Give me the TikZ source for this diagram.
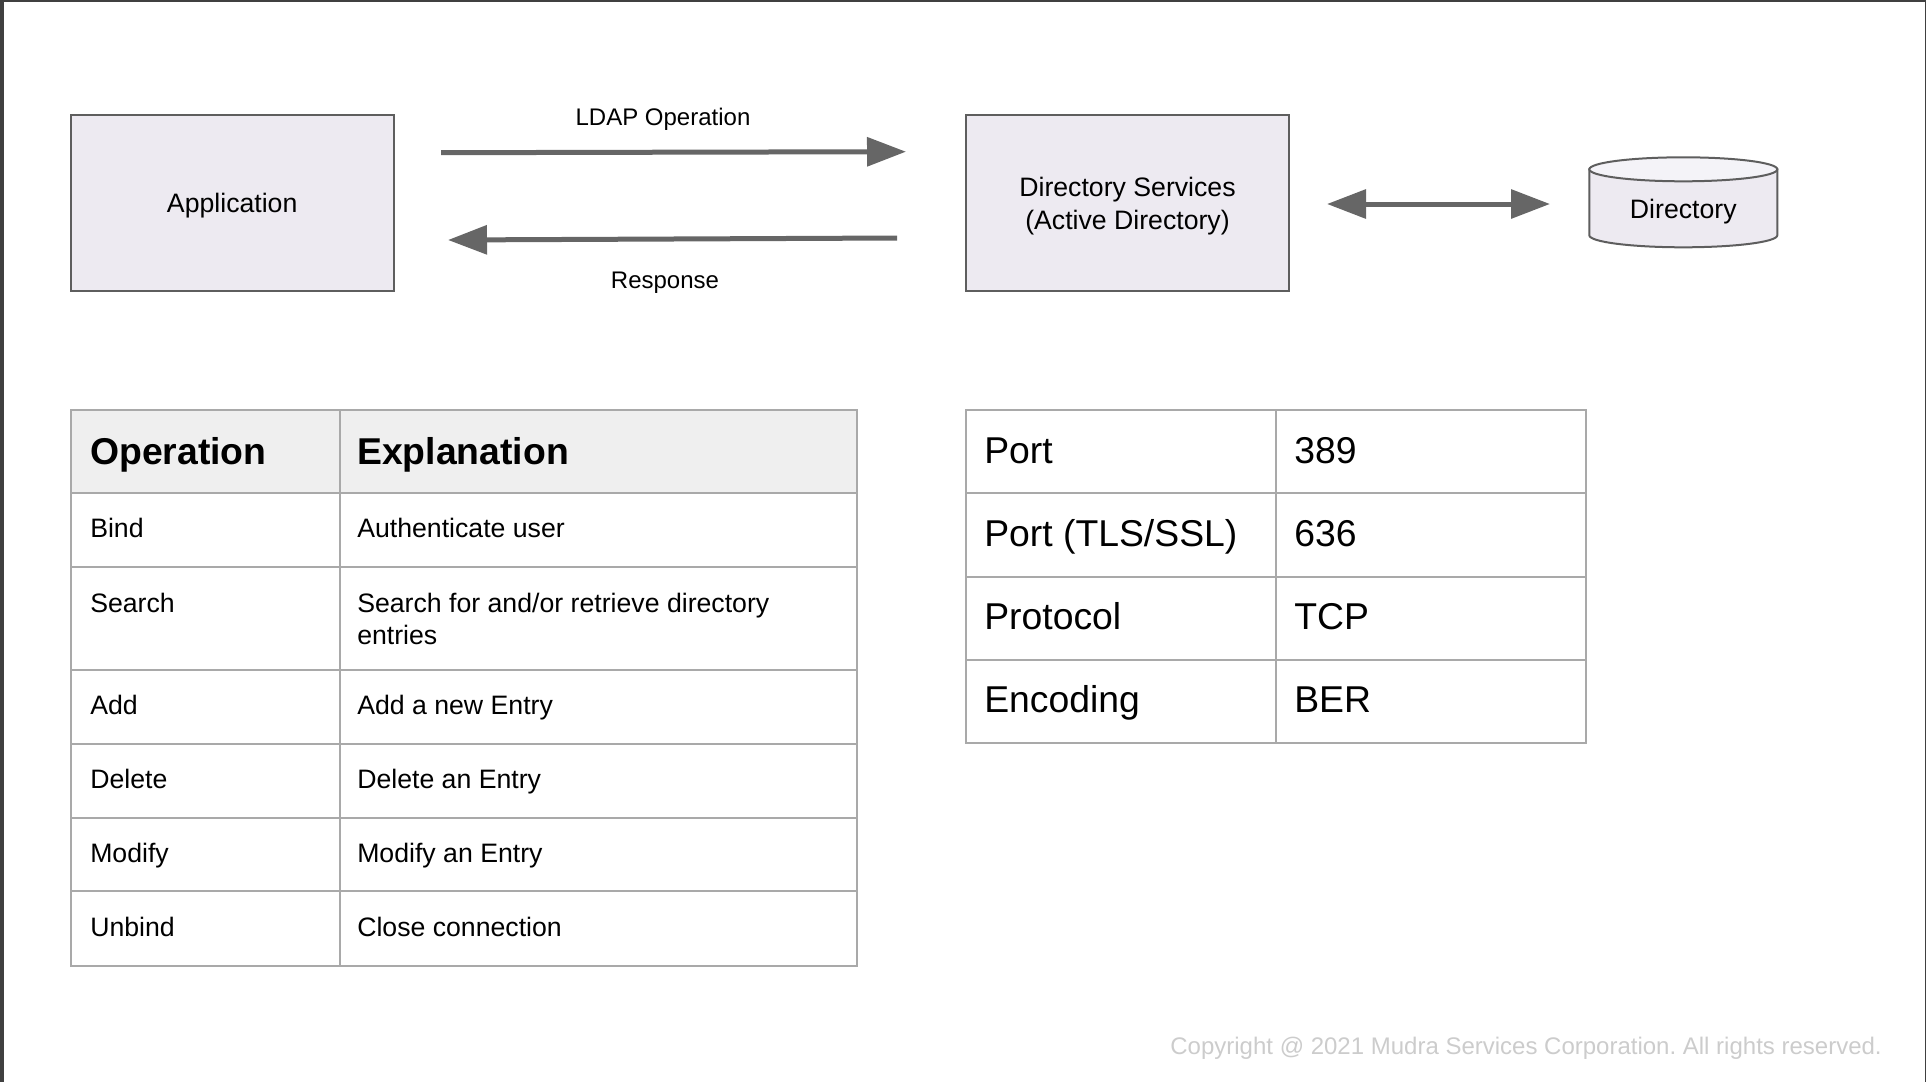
\documentclass[tikz,border=0pt]{standalone}
\usepackage{fontspec}
\setmainfont{Liberation Sans}
\usetikzlibrary{arrows.meta}
\definecolor{boxfill}{HTML}{EDEAF1}
\definecolor{boxline}{HTML}{5E5E5E}
\definecolor{arrowc}{HTML}{666666}
\definecolor{gridc}{HTML}{A9A9A9}
\definecolor{headfill}{HTML}{EFEFEF}
\definecolor{framec}{HTML}{404040}
\definecolor{copyc}{HTML}{CCCCCC}
\definecolor{cyltop}{HTML}{F4F3F8}
\frenchspacing
\begin{document}
\begin{tikzpicture}[x=0.75pt,y=-0.75pt,
  box/.style={draw=boxline, line width=1.5pt, fill=boxfill, minimum width=242pt, minimum height=132pt, inner sep=0pt, align=center, font=\fontsize{20}{24.75}\selectfont},
  lbl/.style={anchor=base, inner sep=0pt, font=\fontsize{18}{22}\selectfont},
  flow/.style={draw=arrowc, line width=3.75pt, -{Triangle[length=29.25pt,width=21.3pt]}},
  flowboth/.style={draw=arrowc, line width=3.75pt, {Triangle[length=29.25pt,width=21.3pt]}-{Triangle[length=29.25pt,width=21.3pt]}},
  gridline/.style={draw=gridc, line width=1.5pt},
  hcell/.style={anchor=base west, inner sep=0pt, font=\fontsize{28}{32}\selectfont\bfseries},
  bcell/.style={anchor=base west, inner sep=0pt, align=left, font=\fontsize{20}{24}\selectfont},
  pcell/.style={anchor=base west, inner sep=0pt, font=\fontsize{28}{32}\selectfont},
  cyl/.style={draw=boxline, line width=1.5pt}
]
\useasboundingbox (0,0) rectangle (1926,1082);
% frame
\fill[framec] (0,0) rectangle (1926,2.3);
\fill[framec] (0,0) rectangle (3.5,1082);
\fill[framec] (1924.5,0) rectangle (1926,1082);

% boxes
\node[box, text height=14.3pt, text depth=0pt] (app) at (232.2,203) {Application};
\node[box] (ds) at (1127.5,203) {};
\node[inner sep=0pt, align=center, font=\fontsize{20}{24.75}\selectfont] (dstext) at (1127.5,206) {Directory Services\\(Active Directory)};

% cylinder
\path[cyl, fill=boxfill] (1589.3,169.3) -- (1589.3,235.3) arc[start angle=180, end angle=360, x radius=70.5pt, y radius=9pt] -- (1777.3,169.3) -- cycle;
\draw[cyl, fill=cyltop] (1683.3,169.3) ellipse[x radius=70.5pt, y radius=9pt];
\node[anchor=base, inner sep=0pt, font=\fontsize{20}{24}\selectfont] (dir) at (1683.3,218.5) {Directory};

% arrows
\coordinate (opA) at (441,152.7);
\coordinate (opB) at (906,151.7);
\coordinate (reA) at (897,238);
\coordinate (reB) at (448,240);
\coordinate (dbA) at (1327,204);
\coordinate (dbB) at (1550,204);
\draw[flow] (opA) -- (opB);
\draw[flow] (reA) -- (reB);
\draw[flowboth] (dbA) -- (dbB);
\node[lbl] (ldap) at (663,125) {LDAP Operation};
\node[lbl] (resp) at (665,288.3) {Response};

% table 1
\fill[headfill] (71,410) rectangle (857,492.5);
\draw[gridline] (71,410) rectangle (857,966);
\foreach \yy in {492.5,567,669.5,743.5,817.5,891} {\draw[gridline] (71,\yy) -- (857,\yy);}
\draw[gridline] (339.5,410) -- (339.5,966);
\node[hcell] (h1) at (90,464) {Operation};
\node[hcell] (h2) at (357,464) {Explanation};
\node[bcell] (o1) at (90,537.5) {Bind};
\node[bcell] (e1) at (357,537.5) {Authenticate user};
\node[bcell] (o2) at (90,612) {Search};
\node[bcell] (e2) at (357,612) {Search for and/or retrieve directory};
\node[bcell] (e2b) at (357,644) {entries};
\node[bcell] (o3) at (90,714.5) {Add};
\node[bcell] (e3) at (357,714.5) {Add a new Entry};
\node[bcell] (o4) at (90,788.5) {Delete};
\node[bcell] (e4) at (357,788.5) {Delete an Entry};
\node[bcell] (o5) at (90,862.5) {Modify};
\node[bcell] (e5) at (357,862.5) {Modify an Entry};
\node[bcell] (o6) at (90,936) {Unbind};
\node[bcell] (e6) at (357,936) {Close connection};

% table 2
\draw[gridline] (965.5,410) rectangle (1586,742.5);
\foreach \yy in {493,576.5,659.5} {\draw[gridline] (965.5,\yy) -- (1586,\yy);}
\draw[gridline] (1276.3,410) -- (1276.3,742.5);
\node[pcell] (p1) at (984,463) {Port};
\node[pcell] (v1) at (1294,463) {389};
\node[pcell] (p2) at (984,546) {Port (TLS/SSL)};
\node[pcell] (v2) at (1294,546) {636};
\node[pcell] (p3) at (984,629.5) {Protocol};
\node[pcell] (v3) at (1294,629.5) {TCP};
\node[pcell] (p4) at (984,712.5) {Encoding};
\node[pcell] (v4) at (1294,712.5) {BER};

% copyright
\node[anchor=base east, inner sep=0pt, text=copyc, font=\fontsize{18}{22}\selectfont] (copy) at (1882,1054) {Copyright @ 2021 Mudra Services Corporation. All rights reserved.};
\end{tikzpicture}
\end{document}
